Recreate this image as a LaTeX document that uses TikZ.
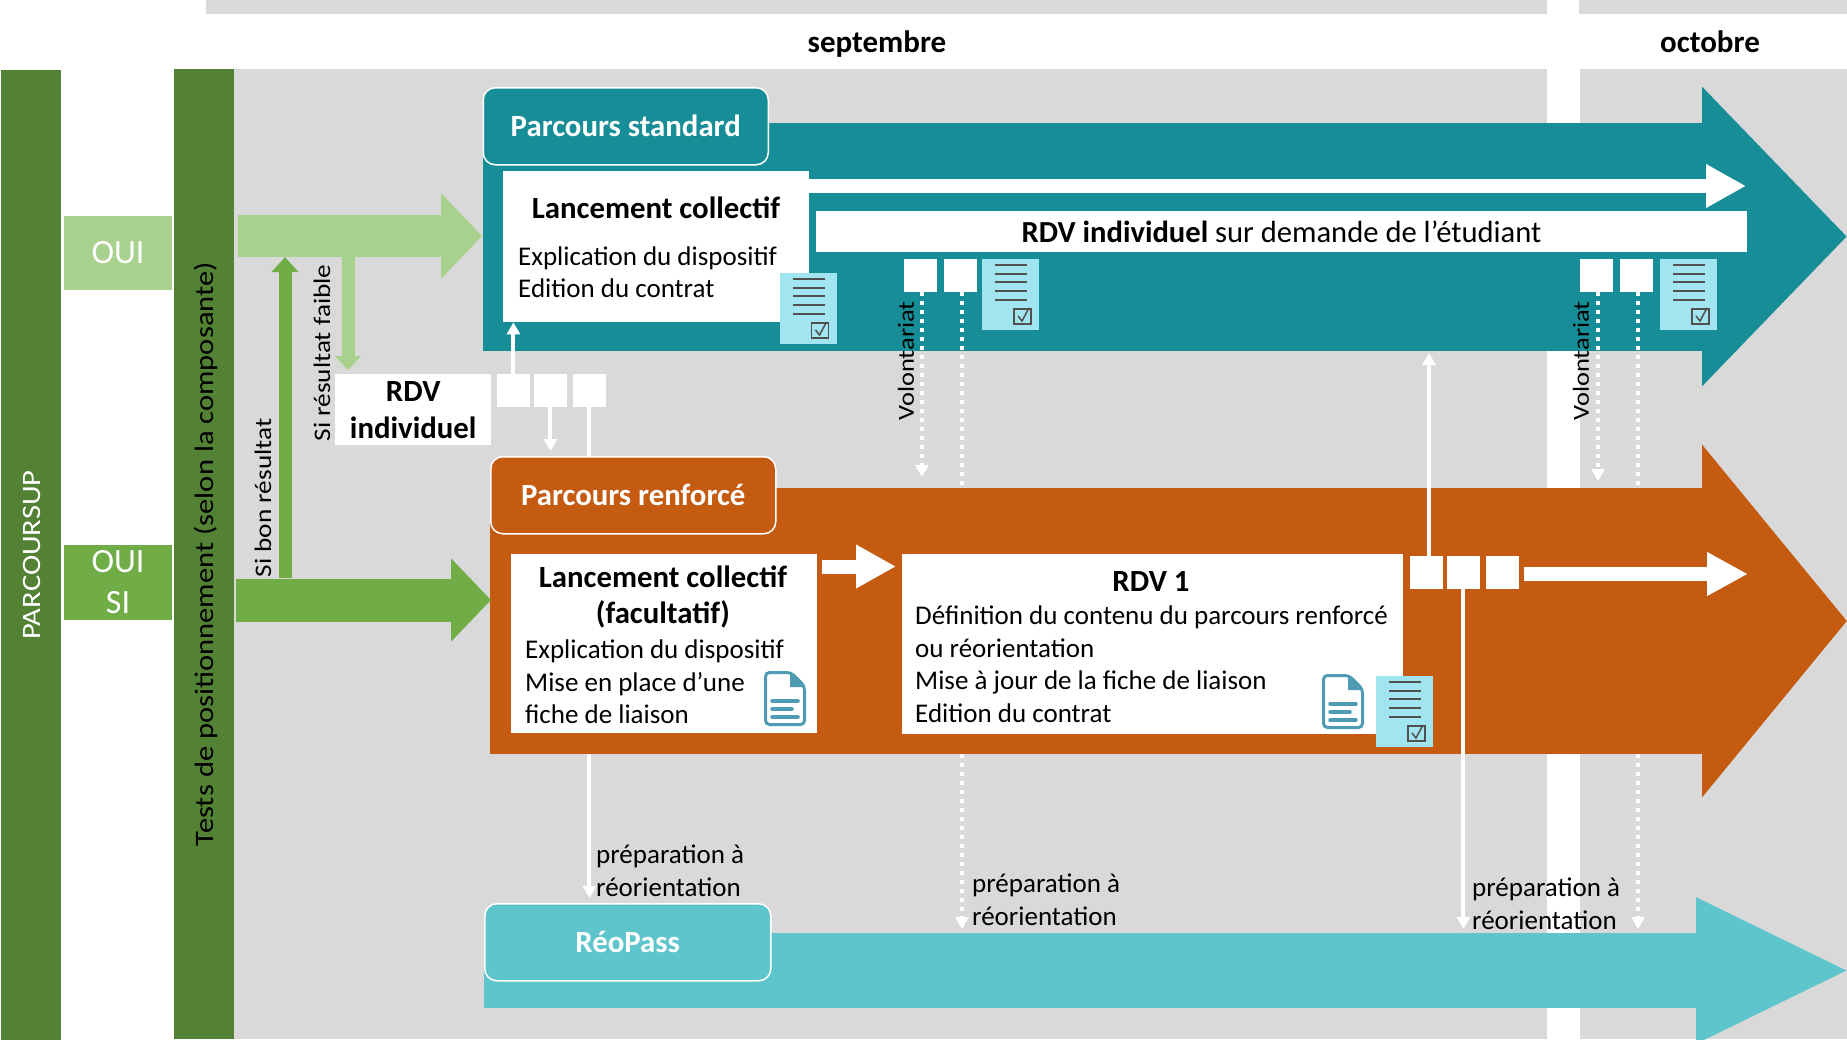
\documentclass[tikz,border=0pt]{standalone}
\usepackage{fontspec}
\setmainfont{Carlito}
\newfontfamily\widefont[FakeStretch=1.15]{Carlito}
\usetikzlibrary{arrows.meta}

\definecolor{grisfond}{HTML}{D9D9D9}
\definecolor{vertfonce}{HTML}{548235}
\definecolor{vertmoyen}{HTML}{70AD47}
\definecolor{vertclair}{HTML}{A9D18E}
\definecolor{stdteal}{HTML}{178E97}
\definecolor{renforange}{HTML}{C55A11}
\definecolor{reoteal}{HTML}{5FC5CC}
\definecolor{iconbleu}{HTML}{A1E5F1}
\definecolor{docbleu}{HTML}{4F9BB3}
\definecolor{icongris}{HTML}{505050}

\tikzset{
    blockarrow/.style n args={3}{line width=#1pt,-{Triangle[length=#2pt,width=#3pt]}},
    thinarrow/.style={draw=white,line width=4pt,-{Triangle[length=12pt,width=13pt]}},
    thinline/.style={draw=white,line width=4pt},
    dotarrow/.style={thinarrow,dash pattern=on 4pt off 5pt},
    dotline/.style={thinline,dash pattern=on 4pt off 5pt},
    titlebox/.style={draw=white,line width=1.5pt,rounded corners=12pt,text=white,font=\fontsize{30.8}{37}\selectfont\bfseries,anchor=north west,inner sep=0pt},
    whitebox/.style={fill=white,anchor=north west,inner sep=0pt},
    squarebox/.style={fill=white,anchor=north west,inner sep=0pt,minimum size=32.5pt},
    sidebar/.style={rotate=90,inner sep=0pt,minimum height=60pt,minimum width=970pt},
    choicebox/.style={inner sep=0pt,text=white,minimum width=108pt,align=center,font=\fontsize{34}{41}\selectfont},
    headtxt/.style={inner sep=0pt,align=center,font=\fontsize{30.8}{36.5}\selectfont\bfseries},
    monthtxt/.style={inner sep=0pt,anchor=base,font=\fontsize{31}{37}\selectfont\bfseries},
    bodytxt/.style={inner sep=0pt,anchor=west,align=left,font=\fontsize{27}{32.5}\selectfont},
    sidetxt/.style={inner sep=0pt,rotate=90,font=\fontsize{23.7}{28}\selectfont\widefont},
    barlabel/.style={inner sep=0pt,rotate=90,font=\fontsize{26.6}{30}\selectfont\widefont},
    checklist/.pic={
        \fill[iconbleu] (0,0) rectangle (57,71);
        \foreach \ly in {6,15,23,32,41} {
            \draw[icongris,line width=2pt] (13,\ly) -- (45,\ly);
        }
        \draw[icongris,line width=1.5pt] (32,50) rectangle (49,65);
        \draw[icongris,line width=1.5pt] (36,57) -- (40,62) -- (47,49);
    },
    docicon/.pic={
        \draw[docbleu,fill=white,line width=3pt,rounded corners=4pt] (1.5,1.5) -- (27,1.5) -- (40.5,15) -- (40.5,53.5) -- (1.5,53.5) -- cycle;
        \fill[docbleu] (26,1.5) -- (40.5,16) -- (26,16) -- cycle;
        \foreach \ly/\lx in {30/34,38/28,46/34} {
            \draw[docbleu,line width=3.5pt,line cap=round] (8,\ly) -- (\lx,\ly);
        }
    }
}

\begin{document}
\begin{tikzpicture}[x=1pt,y=-1pt]
    \useasboundingbox (0,0) rectangle (1847,1039);

    % fond des mois
    \fill[grisfond] (206,0) rectangle (1547,14);
    \fill[grisfond] (1579,0) rectangle (1847,14);
    \fill[grisfond] (234,69) rectangle (1547,1039);
    \fill[grisfond] (1580,69) rectangle (1847,1039);
    \node[monthtxt] (sept) at (877,52) {septembre};
    \node[monthtxt] (oct) at (1710,52) {octobre};

    % colonnes de gauche
    \node[sidebar,fill=vertfonce] (parcoursup) at (30.5,554.5) {};
    \node[sidebar,fill=vertfonce] (tests) at (204,554) {};
    \node[barlabel,text=white] (parcoursuptxt) at (32,555) {PARCOURSUP};
    \node[barlabel] (teststxt) at (206,554) {Tests de positionnement (selon la composante)};
    \node[choicebox,fill=vertclair,minimum height=74pt] (oui) at (118,253) {OUI};
    \node[choicebox,fill=vertmoyen,minimum height=75pt] (ouisi) at (118,582.5) {OUI\\SI};

    % grandes fleches
    \coordinate (stdstart) at (483,236.5);
    \coordinate (stdtip) at (1847,236.5);
    \coordinate (renfstart) at (490,621);
    \coordinate (renftip) at (1847,621);
    \coordinate (reostart) at (484,970.5);
    \coordinate (reotip) at (1851,970.5);
    \draw[stdteal,blockarrow={228}{145}{291}] (stdstart) -- (stdtip);
    \draw[renforange,blockarrow={266}{145}{345}] (renfstart) -- (renftip);
    \draw[reoteal,blockarrow={75}{155}{134}] (reostart) -- (reotip);

    \coordinate (clairstart) at (238,236);
    \coordinate (clairtip) at (482,236);
    \coordinate (moyenstart) at (236,600);
    \coordinate (moyentip) at (491,600);
    \draw[vertclair,blockarrow={42}{41}{83}] (clairstart) -- (clairtip);
    \draw[vertmoyen,blockarrow={43}{40}{81}] (moyenstart) -- (moyentip);
    \coordinate (bontip) at (285,257);
    \coordinate (faibletop) at (348,257);
    \draw[vertmoyen,line width=13pt,-{Triangle[length=15pt,width=26pt]}] (bontip |- moyenstart) ++(0,-22) -- (bontip);

    % boites
    \node[titlebox,fill=stdteal,minimum width=285pt,minimum height=77pt] (std) at (482.5,87) {Parcours standard};
    \node[titlebox,fill=renforange,minimum width=285pt,minimum height=77pt] (renf) at (490,456) {Parcours renforcé};
    \node[titlebox,fill=reoteal,minimum width=286pt,minimum height=77pt] (reo) at (484,903) {RéoPass};

    \node[whitebox,minimum width=305.5pt,minimum height=151pt] (lanc) at (503,171) {};
    \node[headtxt] (lanctitle) at (656,208) {Lancement collectif};
    \node[bodytxt] (lancbody) at (518,272) {Explication du dispositif\\Edition du contrat};
    \node[whitebox,minimum width=931pt,minimum height=41pt,anchor=center,font=\fontsize{30.6}{37}\selectfont] (demande) at (1281.5,231.5) {\textbf{RDV individuel} sur demande de l’étudiant};

    \node[whitebox,minimum width=156pt,minimum height=71pt,align=center,font=\fontsize{30.8}{37}\selectfont\bfseries] (rdvind) at (335,374) {RDV\\individuel};
    \node[squarebox] (rdva) at (497,374) {};
    \node[squarebox] (rdvb) at (534,374) {};
    \node[squarebox] (rdvc) at (573,374) {};

    \node[squarebox] (vola) at (904,259) {};
    \node[squarebox] (volb) at (944,259) {};
    \node[squarebox] (volc) at (1580,259) {};
    \node[squarebox] (vold) at (1620,259) {};

    \node[whitebox,minimum width=306pt,minimum height=179pt] (fac) at (510.5,554) {};
    \node[headtxt] (factitle) at (663,597) {Lancement collectif\\(facultatif)};
    \node[bodytxt] (facbody) at (525,682) {Explication du dispositif\\Mise en place d’une\\fiche de liaison};

    \node[whitebox,minimum width=501pt,minimum height=180pt] (rdvone) at (902,554) {};
    \node[headtxt] (rdvonetitle) at (1151,581) {RDV 1};
    \node[bodytxt] (rdvonebody) at (915,664) {Définition du contenu du parcours renforcé\\ou réorientation\\Mise à jour de la fiche de liaison\\Edition du contrat};

    \node[squarebox] (renfa) at (1410,556) {};
    \node[squarebox] (renfb) at (1447,556) {};
    \node[squarebox] (renfc) at (1486,556) {};

    % icones
    \pic at (779.5,273) {checklist};
    \pic at (982,259) {checklist};
    \pic at (1660,259) {checklist};
    \pic at (1376,676) {checklist};
    \pic at (764,671) {docicon};
    \pic at (1322,674) {docicon};

    % fleches fines
    \draw[vertclair,line width=13pt,-{Triangle[length=14pt,width=26pt]}] (faibletop) -- (faibletop |- rdvind.north) [shorten >=4pt];
    \draw[thinarrow] (rdva.north) -- (rdva |- lanc.south);
    \draw[thinarrow,shorten >=5pt] (rdvb.south) -- (rdvb |- renf.north);
    \draw[thinline] (rdvc.south) -- (rdvc |- renf.north);
    \coordinate (renfbottom) at (0,754);
    \draw[thinarrow,shorten >=5pt] (rdvc |- renfbottom) -- (rdvc |- reo.north);

    \coordinate (voltipa) at (922,477);
    \coordinate (voltipb) at (1598,481);
    \coordinate (renftop) at (0,488);
    \coordinate (reotop) at (0,929);
    \draw[dotarrow] (voltipa |- vola.south) -- (voltipa);
    \draw[dotarrow] (voltipb |- volc.south) -- (voltipb);
    \coordinate (dotb) at (962,300);
    \coordinate (dotd) at (1638,300);
    \draw[dotline] (dotb |- volb.south) -- (dotb |- renftop);
    \draw[dotline] (dotd |- vold.south) -- (dotd |- renftop);
    \draw[dotarrow] (dotb |- renfbottom) -- (dotb |- reotop);
    \draw[dotarrow] (dotd |- renfbottom) -- (dotd |- reotop);

    \coordinate (upstd) at (1429,353);
    \draw[thinarrow] (upstd |- renfa.north) -- (upstd);
    \draw[thinarrow] (renfb.south) -- (renfb |- reotop);

    \coordinate (stdend) at (1746,186);
    \coordinate (renfend) at (1748,574);
    \draw[white,blockarrow={14}{40}{41}] (lanc.east |- stdend) -- (stdend);
    \draw[white,blockarrow={14}{41}{41},shorten <=5pt] (renfc.east |- renfend) -- (renfend);
    \draw[white,blockarrow={14}{40}{41},shorten <=5.5pt,shorten >=6pt] ([yshift=-12.5pt]fac.north east) -- ([yshift=-12.5pt]rdvone.north west);

    % textes libres
    \node[sidetxt] (bonres) at (263,498) {Si bon résultat};
    \node[sidetxt] (faibleres) at (322,353) {Si résultat faible};
    \node[sidetxt,font=\fontsize{23}{28}\selectfont\widefont] (volonta) at (906,361) {Volontariat};
    \node[sidetxt,font=\fontsize{23}{28}\selectfont\widefont] (volontb) at (1581,361) {Volontariat};
    \node[bodytxt] (prepa) at (596,871) {préparation à\\réorientation};
    \node[bodytxt] (prepb) at (972,900) {préparation à\\réorientation};
    \node[bodytxt] (prepc) at (1472,904) {préparation à\\réorientation};
\end{tikzpicture}
\end{document}
